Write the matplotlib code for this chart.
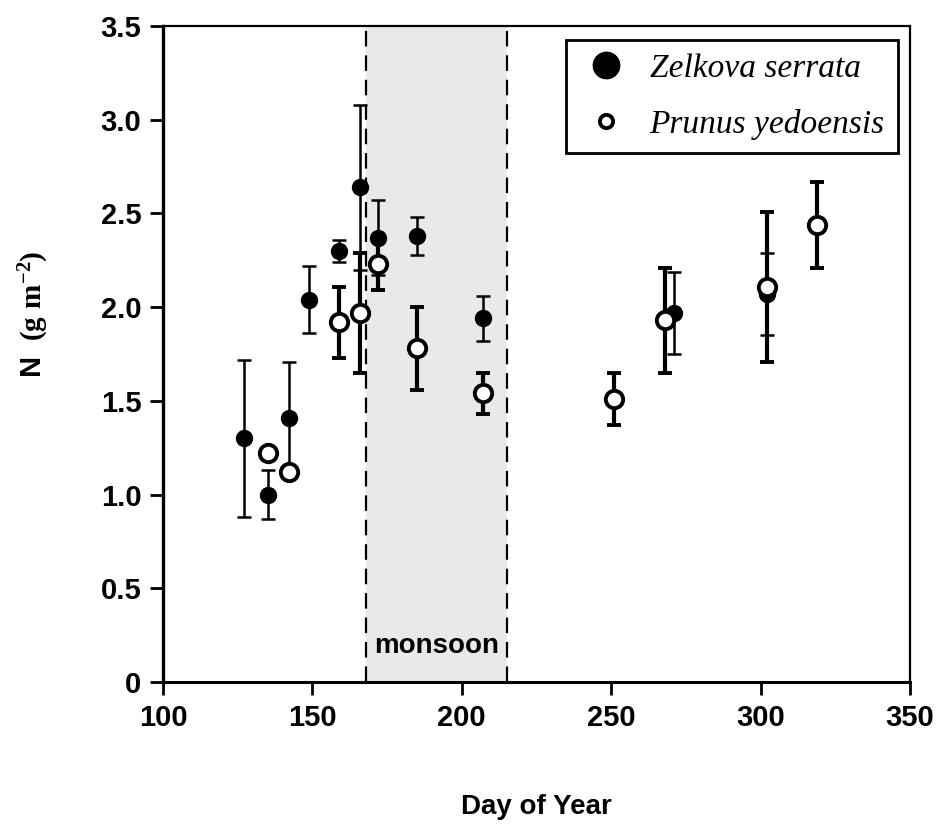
import matplotlib
matplotlib.use("Agg")
import matplotlib.pyplot as plt
from matplotlib.lines import Line2D

plt.rcParams['font.family'] = 'Liberation Sans'
plt.rcParams['font.weight'] = 'bold'
plt.rcParams['mathtext.fontset'] = 'custom'
plt.rcParams['mathtext.rm'] = 'Liberation Serif'
plt.rcParams['mathtext.bf'] = 'Liberation Serif:bold'

# Zelkova serrata (filled)
zel_day = [127, 135, 142, 149, 159, 166, 172, 185, 207, 271, 302]
zel_n = [1.30, 1.00, 1.41, 2.04, 2.30, 2.64, 2.37, 2.38, 1.94, 1.97, 2.07]
zel_err = [0.42, 0.13, 0.30, 0.18, 0.06, 0.44, 0.20, 0.10, 0.12, 0.22, 0.22]

# Prunus yedoensis (open)
pru_day = [135, 142, 159, 166, 172, 185, 207, 251, 268, 302, 319]
pru_n = [1.22, 1.12, 1.92, 1.97, 2.23, 1.78, 1.54, 1.51, 1.93, 2.11, 2.44]
pru_err = [0.02, 0.02, 0.19, 0.32, 0.14, 0.22, 0.11, 0.14, 0.28, 0.40, 0.23]

monsoon = (168, 215)

fig = plt.figure(figsize=(9.39, 8.24), dpi=100)
ax = fig.add_axes([0.1736, 0.1723, 0.7955, 0.7961])

ax.axvspan(monsoon[0], monsoon[1], color='#e8e9eb', zorder=0, lw=0)
for xv in monsoon:
    ax.axvline(xv, color='k', lw=1.6, ls=(0, (7, 4)), zorder=1)
ax.text(sum(monsoon) / 2, 0.19, 'monsoon', ha='center', va='center',
        fontsize=20, fontweight='bold')

ax.errorbar(zel_day, zel_n, yerr=zel_err, fmt='o', color='k', ms=11.5,
            elinewidth=1.8, capsize=5, capthick=1.8, zorder=3)
ax.errorbar(pru_day, pru_n, yerr=pru_err, fmt='o', color='k', mfc='white',
            mec='k', mew=2.8, ms=12.5, elinewidth=3, capsize=5, capthick=3,
            zorder=4)

ax.set_xlim(100, 350)
ax.set_ylim(0, 3.5)
ax.set_xticks([100, 150, 200, 250, 300, 350])
ax.set_yticks([0, 0.5, 1.0, 1.5, 2.0, 2.5, 3.0, 3.5])
ax.set_yticklabels(['0', '0.5', '1.0', '1.5', '2.0', '2.5', '3.0', '3.5'])
ax.tick_params(direction='out', length=9.5, width=2, labelsize=21, pad=6)
for lbl in ax.get_xticklabels() + ax.get_yticklabels():
    lbl.set_fontweight('bold')

ax.spines['left'].set_linewidth(2.4)
ax.spines['bottom'].set_linewidth(2.2)
ax.spines['top'].set_linewidth(1.6)
ax.spines['right'].set_linewidth(1.6)

ax.set_xlabel('Day of Year', fontsize=20, fontweight='bold', labelpad=45)
ax.set_ylabel(r'N  $\mathbf{(g\;m^{-2})}$', fontsize=21, fontweight='bold')
ax.yaxis.set_label_coords(-0.15, 0.56)

handles = [
    Line2D([], [], marker='o', color='k', ls='none', ms=19),
    Line2D([], [], marker='o', color='k', mfc='white', mew=2.8, ls='none', ms=9.5),
]
leg = ax.legend(handles, ['Zelkova serrata', 'Prunus yedoensis'],
                loc='upper right', bbox_to_anchor=(0.984, 0.979),
                borderaxespad=0, fancybox=False, edgecolor='k',
                prop=dict(family='Liberation Serif', style='italic',
                          weight='normal', size=24),
                handletextpad=0.5, handlelength=1.6, labelspacing=0.75,
                borderpad=0.4, framealpha=1)
leg.get_frame().set_linewidth(2)

fig.savefig('out.png', dpi=100)
